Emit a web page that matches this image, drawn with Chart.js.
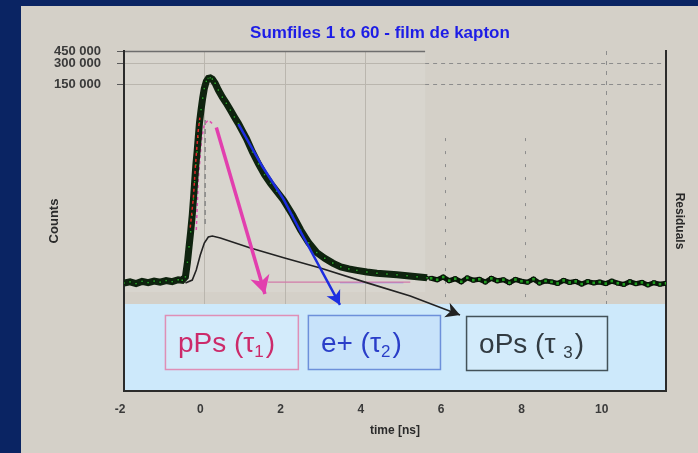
<!DOCTYPE html>
<html>
<head>
<meta charset="utf-8">
<title>Sumfiles 1 to 60 - film de kapton</title>
<script src="https://cdn.jsdelivr.net/npm/chart.js@4.4.1/dist/chart.umd.min.js"></script>
<style>
  html, body { margin: 0; padding: 0; background: #0a2463; }
  #frame { position: relative; width: 698px; height: 453px; overflow: hidden; }
  #panel { position: absolute; left: 21px; top: 6px; right: 0; bottom: 0; background: #d4d0c8; }
  #lifetimeChart { position: absolute; left: 0; top: 0; }
</style>
</head>
<body>
<div id="frame">
  <div id="panel"></div>
  <canvas id="lifetimeChart" width="698" height="453"></canvas>
</div>
<script>
// measured spectrum inside the fit window (time in ns, counts)
const specTime = [-2.00, -1.85, -1.70, -1.55, -1.40, -1.25, -1.10, -0.95, -0.80, -0.65, -0.55, -0.47,
  -0.42, -0.38, -0.34, -0.30, -0.27, -0.24, -0.21, -0.18, -0.15, -0.12, -0.08, -0.04, 0.00, 0.05,
  0.10, 0.15, 0.20, 0.27, 0.35, 0.45, 0.55, 0.65, 0.75, 0.85, 0.95, 1.05, 1.20, 1.35, 1.50, 1.65,
  1.80, 1.97, 2.20, 2.40, 2.60, 2.80, 3.00, 3.20, 3.40, 3.60, 3.80, 4.05, 4.30, 4.55, 4.80, 5.05,
  5.30, 5.55];
const specCounts = [212, 220, 208, 224, 215, 226, 218, 230, 222, 236, 232, 260,
  420, 700, 1150, 2000, 3400, 6000, 10500, 16000, 26000, 42000, 65000, 95000, 130000, 165000,
  182000, 185000, 178000, 155000, 124000, 98000, 80000, 64000, 51000, 41000, 32000, 25000, 16000, 10800, 7600, 5700,
  4400, 3300, 2000, 1220, 800, 580, 480, 410, 362, 338, 322, 305, 293, 285, 278, 270,
  260, 252];

// residual flat tail after the window
const tailTime = [5.65, 5.80, 5.95, 6.10, 6.25, 6.40, 6.55, 6.70, 6.85, 7.00, 7.15, 7.30, 7.45, 7.60,
  7.75, 7.90, 8.05, 8.20, 8.35, 8.50, 8.65, 8.80, 8.95, 9.10, 9.25, 9.40, 9.55, 9.70, 9.85, 10.00,
  10.15, 10.30, 10.45, 10.60, 10.75, 10.90, 11.05, 11.20, 11.35, 11.50];
const tailCounts = [248, 236, 258, 229, 244, 221, 251, 233, 240, 219, 247, 228, 236, 214,
  238, 225, 218, 241, 212, 227, 220, 209, 231, 216, 224, 205, 222, 213, 219, 208,
  226, 211, 203, 221, 207, 216, 199, 214, 204, 210];

// fit along the leading edge
const fitTime = [-0.35, -0.27, -0.22, -0.15, -0.11];
const fitCounts = [1320, 3630, 10450, 33000, 50000];

// pPs component: dashed rise, arrow down, flat remainder
const pPsTime = [-0.20, -0.15, -0.07, 0.00, 0.10, 0.20];
const pPsCounts = [1220, 6400, 23800, 40000, 46000, 41000];
const pPsArrowTime = [0.30, 1.51];
const pPsArrowCounts = [36000, 148];
const pPsFlatTime = [1.59, 5.13];
const pPsFlatCounts = [218, 218];

// e+ component
const ePlusTime = [0.85, 1.44, 1.97, 2.39, 3.38];
const ePlusCounts = [40300, 10100, 3400, 1180, 103];
const ePlusFlatTime = [3.38, 4.96];
const ePlusFlatCounts = [214, 214];

// oPs component, its tail runs into the arrow
const oPsTime = [-0.47, -0.30, -0.20, -0.10, 0.00, 0.10, 0.20, 0.40, 1.15, 2.00, 2.89, 4.06, 5.13, 6.37];
const oPsCounts = [212, 234, 326, 535, 795, 969, 1000, 940, 675, 485, 348, 213, 138, 74];

// time-zero marker
const t0Time = [0.02, 0.02];
const t0Counts = [46000, 1440];

const xTicks = [-2, 0, 2, 4, 6, 8, 10];
const yTicks = [150000, 300000, 450000];

const FONT = 'Arial, "Liberation Sans", sans-serif';

function pts(xs, ys) {
    return xs.map((x, i) => ({ x: x, y: ys[i] }));
}

// shaded strip holding the component labels, and the labels themselves
const strip = { x0: -2, x1: 11.5, y0: 6, y1: 106, fill: '#cde9fb' };
const tags = [
    { parts: ['pPs (τ', '1', ')'], x0: -0.98, x1: 2.33, y0: 73.8, y1: 12.4, color: '#cc2a6a', edge: '#df8fb6', fill: '#d3ebfb' },
    { parts: ['e+ (τ', '2', ')'], x0: 2.58, x1: 5.87, y0: 73.8, y1: 12.4, color: '#2a3ec8', edge: '#6d90da', fill: '#c8e3fa' },
    { parts: ['oPs (τ ', '3', ')'], x0: 6.52, x1: 10.03, y0: 71.4, y1: 12.0, color: '#323b42', edge: '#435259', fill: '#d3ebfb' }
];

const backdropPlugin = {
    id: 'backdrop',
    beforeDraw(chart) {
        const { ctx, scales: { x, y } } = chart;
        const top = y.getPixelForValue(450000);
        const split = x.getPixelForValue(5.5);
        ctx.save();

        // lighter inset behind the fit window
        ctx.fillStyle = '#d8d5ce';
        ctx.fillRect(x.getPixelForValue(-2), top, split - x.getPixelForValue(-2), y.getPixelForValue(157) - top);

        // solid grid inside the fit window
        ctx.strokeStyle = '#bab6ae';
        ctx.lineWidth = 1;
        ctx.beginPath();
        [0, 2, 4].forEach(t => {
            const px = Math.round(x.getPixelForValue(t)) + 0.5;
            ctx.moveTo(px, top); ctx.lineTo(px, y.getPixelForValue(strip.y1));
        });
        [150000, 300000].forEach(v => {
            const py = Math.round(y.getPixelForValue(v)) + 0.5;
            ctx.moveTo(x.getPixelForValue(-2), py); ctx.lineTo(split, py);
        });
        ctx.stroke();

        // dashed grid outside it
        ctx.strokeStyle = '#8c8c8c';
        ctx.setLineDash([4, 4]);
        ctx.beginPath();
        [150000, 300000].forEach(v => {
            const py = Math.round(y.getPixelForValue(v)) + 0.5;
            ctx.moveTo(split, py); ctx.lineTo(x.getPixelForValue(11.5), py);
        });
        ctx.stroke();
        ctx.setLineDash([4, 6]);
        ctx.beginPath();
        const p10 = Math.round(x.getPixelForValue(10)) + 0.5;
        ctx.moveTo(p10, top); ctx.lineTo(p10, y.getPixelForValue(strip.y1));
        ctx.stroke();
        ctx.setLineDash([3, 10]);
        ctx.beginPath();
        [6, 8].forEach(t => {
            const px = Math.round(x.getPixelForValue(t)) + 0.5;
            ctx.moveTo(px, y.getPixelForValue(25400)); ctx.lineTo(px, y.getPixelForValue(strip.y1));
        });
        ctx.stroke();
        ctx.setLineDash([]);

        // top edge only over the fit window
        ctx.strokeStyle = '#6e6e6e';
        ctx.lineWidth = 1.5;
        ctx.beginPath();
        ctx.moveTo(x.getPixelForValue(-2), top + 0.5); ctx.lineTo(split, top + 0.5);
        ctx.stroke();

        // label strip
        const sx0 = x.getPixelForValue(strip.x0), sx1 = x.getPixelForValue(strip.x1);
        const sy0 = y.getPixelForValue(strip.y1), sy1 = y.getPixelForValue(strip.y0);
        ctx.fillStyle = strip.fill;
        ctx.fillRect(sx0, sy0, sx1 - sx0, sy1 - sy0);

        tags.forEach(tag => {
            const bx = x.getPixelForValue(tag.x0), bw = x.getPixelForValue(tag.x1) - bx;
            const by = y.getPixelForValue(tag.y0), bh = y.getPixelForValue(tag.y1) - by;
            ctx.fillStyle = tag.fill;
            ctx.fillRect(bx, by, bw, bh);
            ctx.strokeStyle = tag.edge;
            ctx.lineWidth = 1.5;
            ctx.strokeRect(bx + 0.5, by + 0.5, bw, bh);

            ctx.fillStyle = tag.color;
            ctx.textBaseline = 'alphabetic';
            ctx.textAlign = 'left';
            let tx = bx + 13;
            const base = by + 37;
            ctx.font = '28px ' + FONT;
            ctx.fillText(tag.parts[0], tx, base);
            tx += ctx.measureText(tag.parts[0]).width;
            ctx.font = '17px ' + FONT;
            ctx.fillText(tag.parts[1], tx, base + 5);
            tx += ctx.measureText(tag.parts[1]).width + 2;
            ctx.font = '28px ' + FONT;
            ctx.fillText(tag.parts[2], tx, base);
        });

        // chart heading
        ctx.fillStyle = '#1d1de6';
        ctx.font = 'bold 17px ' + FONT;
        ctx.textAlign = 'center';
        ctx.textBaseline = 'middle';
        ctx.fillText('Sumfiles 1 to 60 - film de kapton', 380, 33);
        ctx.restore();
    }
};

// filled heads on the component arrows
const arrowPlugin = {
    id: 'arrowHeads',
    afterDatasetsDraw(chart) {
        const ctx = chart.ctx;
        chart.data.datasets.forEach((ds, i) => {
            if (!ds.arrowHead) return;
            const els = chart.getDatasetMeta(i).data;
            const tip = els[els.length - 1], from = els[els.length - 2];
            const ang = Math.atan2(tip.y - from.y, tip.x - from.x);
            const len = ds.arrowHead, half = len * 0.55;
            ctx.save();
            ctx.translate(tip.x, tip.y);
            ctx.rotate(ang);
            ctx.beginPath();
            ctx.moveTo(0, 0);
            ctx.lineTo(-len, -half);
            ctx.lineTo(-len * 0.72, 0);
            ctx.lineTo(-len, half);
            ctx.closePath();
            ctx.fillStyle = ds.borderColor;
            ctx.fill();
            ctx.restore();
        });
    }
};

const ctx = document.getElementById('lifetimeChart').getContext('2d');
const lifetimeChart = new Chart(ctx, {
    type: 'scatter',
    data: {
        datasets: [
            {
                label: 'e+',
                data: pts(ePlusTime, ePlusCounts),
                showLine: true, borderColor: '#1d2ee0', borderWidth: 2.5,
                pointRadius: 0, arrowHead: 14, order: 1
            },
            {
                label: 'fit',
                data: pts(fitTime, fitCounts),
                showLine: true, borderColor: '#e3262a', borderWidth: 1.5, borderDash: [3, 3],
                pointRadius: 0, order: 1
            },
            {
                label: 'pPs arrow',
                data: pts(pPsArrowTime, pPsArrowCounts),
                showLine: true, borderColor: '#e23fae', borderWidth: 3.5,
                pointRadius: 0, arrowHead: 18, order: 2
            },
            {
                label: 'spectrum',
                data: pts(specTime, specCounts),
                showLine: true, borderColor: '#0f230f', borderWidth: 7,
                pointStyle: 'rect', pointRadius: 1.8,
                pointBackgroundColor: '#2aa82a', pointBorderColor: '#0a1a0a', pointBorderWidth: 1,
                order: 3
            },
            {
                label: 'tail',
                data: pts(tailTime, tailCounts),
                showLine: true, borderColor: '#0a160a', borderWidth: 5,
                pointStyle: 'rect', pointRadius: 2.6,
                pointBackgroundColor: '#1f9c1f', pointBorderColor: '#061006', pointBorderWidth: 1,
                order: 3
            },
            {
                label: 'oPs',
                data: pts(oPsTime, oPsCounts),
                showLine: true, borderColor: '#222222', borderWidth: 1.6,
                pointRadius: 0, arrowHead: 14, order: 4
            },
            {
                label: 'pPs',
                data: pts(pPsTime, pPsCounts),
                showLine: true, borderColor: '#e050b0', borderWidth: 1.5, borderDash: [3, 3],
                pointRadius: 0, order: 4
            },
            {
                label: 't0',
                data: pts(t0Time, t0Counts),
                showLine: true, borderColor: '#858585', borderWidth: 1.5, borderDash: [5, 4],
                pointRadius: 0, order: 4
            },
            {
                label: 'pPs flat',
                data: pts(pPsFlatTime, pPsFlatCounts),
                showLine: true, borderColor: '#d27aa8', borderWidth: 1.2,
                pointRadius: 0, order: 5
            },
            {
                label: 'e+ flat',
                data: pts(ePlusFlatTime, ePlusFlatCounts),
                showLine: true, borderColor: '#8a8ae8', borderWidth: 1.2,
                pointRadius: 0, order: 5
            }
        ]
    },
    options: {
        responsive: false,
        animation: false,
        events: [],
        layout: { padding: { top: 51, right: 0, bottom: 0, left: 0 } },
        plugins: {
            legend: { display: false },
            tooltip: { enabled: false },
            title: { display: false }
        },
        scales: {
            x: {
                type: 'linear',
                position: 'bottom',
                min: -2,
                max: 11.5,
                afterFit: s => { s.height = 62; },
                afterBuildTicks: s => { s.ticks = xTicks.map(v => ({ value: v })); },
                grid: { display: false, drawTicks: false },
                border: { display: true, color: '#2b2b2b', width: 2 },
                ticks: {
                    font: { family: FONT, size: 12, weight: 'bold' },
                    color: '#3a3a3a',
                    padding: 11,
                    labelOffset: -4,
                    maxRotation: 0
                },
                title: {
                    display: true,
                    text: 'time [ns]',
                    font: { family: FONT, size: 12, weight: 'bold' },
                    color: '#2a2a2a',
                    padding: { top: 0, bottom: 15 }
                }
            },
            y: {
                type: 'logarithmic',
                position: 'left',
                min: 6,
                max: 450000,
                afterFit: s => { s.width = 124; },
                afterBuildTicks: s => { s.ticks = yTicks.map(v => ({ value: v })); },
                grid: { display: true, drawOnChartArea: false, drawTicks: true, tickLength: 7, tickColor: '#5a5a5a' },
                border: { display: true, color: '#2b2b2b', width: 2 },
                ticks: {
                    font: { family: FONT, size: 13, weight: 'bold' },
                    color: '#3a3a3a',
                    padding: 16,
                    callback: v => String(v).replace(/(\d)(?=(\d{3})+$)/g, '$1 ')
                },
                title: {
                    display: true,
                    text: 'Counts',
                    font: { family: FONT, size: 13, weight: 'bold' },
                    color: '#2a2a2a',
                    padding: { top: 47, bottom: 0 }
                }
            },
            residuals: {
                type: 'linear',
                position: 'right',
                display: true,
                min: 0,
                max: 1,
                afterFit: s => { s.width = 32; },
                grid: { display: false },
                border: { display: true, color: '#2b2b2b', width: 2 },
                ticks: { display: false },
                title: {
                    display: true,
                    text: 'Residuals',
                    font: { family: FONT, size: 12, weight: 'bold' },
                    color: '#2a2a2a',
                    padding: { top: 11, bottom: 0 }
                }
            }
        }
    },
    plugins: [backdropPlugin, arrowPlugin]
});
</script>
</body>
</html>
